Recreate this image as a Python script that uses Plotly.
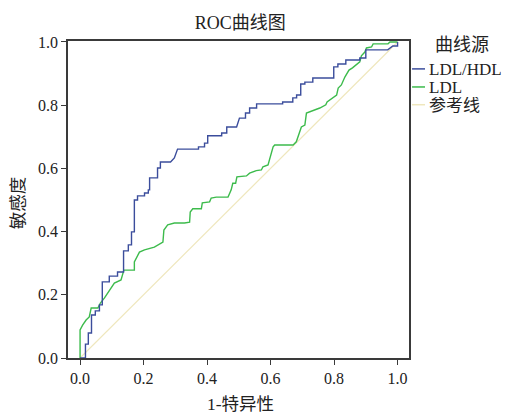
import plotly.graph_objects as go

# LDL/HDL ROC curve (1-specificity, sensitivity)
ldlhdl_fpr = [0.0, 0.017, 0.017, 0.026, 0.026, 0.036, 0.036, 0.048, 0.048, 0.061, 0.061, 0.070, 0.070,
              0.092, 0.092, 0.118, 0.118, 0.137, 0.137, 0.152, 0.152, 0.162, 0.162, 0.171, 0.171,
              0.181, 0.181, 0.203, 0.203, 0.215, 0.215, 0.219, 0.219, 0.244, 0.244, 0.253, 0.253,
              0.285, 0.297, 0.307, 0.373, 0.373, 0.392, 0.392, 0.402, 0.402, 0.446, 0.446, 0.462,
              0.462, 0.493, 0.502, 0.521, 0.521, 0.534, 0.534, 0.556, 0.556, 0.638, 0.638, 0.670,
              0.670, 0.682, 0.682, 0.695, 0.695, 0.708, 0.708, 0.733, 0.733, 0.799, 0.799, 0.812,
              0.812, 0.837, 0.837, 0.881, 0.881, 0.900, 0.900, 0.969, 0.985, 1.0, 1.0]
ldlhdl_tpr = [0.0, 0.0, 0.044, 0.044, 0.079, 0.079, 0.136, 0.136, 0.149, 0.149, 0.168, 0.168, 0.241,
              0.241, 0.259, 0.259, 0.272, 0.272, 0.339, 0.339, 0.358, 0.358, 0.399, 0.399, 0.500,
              0.500, 0.513, 0.513, 0.522, 0.522, 0.532, 0.532, 0.570, 0.570, 0.601, 0.601, 0.620,
              0.620, 0.633, 0.661, 0.661, 0.668, 0.668, 0.680, 0.680, 0.703, 0.703, 0.712, 0.712,
              0.731, 0.731, 0.759, 0.759, 0.775, 0.775, 0.791, 0.791, 0.804, 0.804, 0.810, 0.810,
              0.823, 0.823, 0.832, 0.832, 0.867, 0.867, 0.873, 0.873, 0.886, 0.886, 0.921, 0.921,
              0.930, 0.930, 0.943, 0.943, 0.949, 0.949, 0.975, 0.975, 0.987, 0.987, 1.0]

# LDL ROC curve
ldl_fpr = [0.0, 0.0, 0.008, 0.019, 0.029, 0.035, 0.056, 0.064, 0.077, 0.087, 0.098, 0.108, 0.129,
           0.138, 0.171, 0.171, 0.187, 0.203, 0.234, 0.261, 0.264, 0.276, 0.297, 0.329, 0.345,
           0.347, 0.355, 0.382, 0.385, 0.408, 0.413, 0.429, 0.466, 0.476, 0.481, 0.490, 0.494,
           0.524, 0.534, 0.555, 0.571, 0.576, 0.592, 0.599, 0.608, 0.613, 0.671, 0.681, 0.692,
           0.697, 0.708, 0.713, 0.755, 0.774, 0.778, 0.797, 0.808, 0.813, 0.823, 0.834, 0.847,
           0.858, 0.871, 0.881, 0.886, 0.897, 0.902, 0.918, 0.923, 0.970, 0.976, 1.0]
ldl_tpr = [0.0, 0.089, 0.104, 0.120, 0.130, 0.158, 0.158, 0.174, 0.190, 0.206, 0.222, 0.237, 0.247,
           0.278, 0.278, 0.304, 0.335, 0.342, 0.351, 0.367, 0.405, 0.421, 0.427, 0.427, 0.430,
           0.462, 0.472, 0.472, 0.491, 0.494, 0.506, 0.509, 0.509, 0.532, 0.553, 0.553, 0.573,
           0.576, 0.585, 0.593, 0.595, 0.605, 0.611, 0.636, 0.668, 0.674, 0.674, 0.684, 0.712,
           0.731, 0.737, 0.775, 0.791, 0.801, 0.810, 0.823, 0.832, 0.854, 0.864, 0.889, 0.911,
           0.918, 0.930, 0.937, 0.956, 0.968, 0.981, 0.984, 0.994, 0.994, 1.0, 1.0]

ref_x = [0.0, 1.0]
ref_y = [0.0, 1.0]

tick_vals = [0.0, 0.2, 0.4, 0.6, 0.8, 1.0]
tick_text = ["0.0", "0.2", "0.4", "0.6", "0.8", "1.0"]

series_names = ["LDL/HDL", "LDL", "参考线"]
series_colors = ["#3b4d9c", "#3dbb4c", "#efe7bd"]

FONT = "Liberation Serif, Noto Sans CJK SC, serif"

fig = go.Figure()
fig.add_trace(go.Scatter(x=ref_x, y=ref_y, mode="lines", name=series_names[2],
                         line=dict(color=series_colors[2], width=1.2)))
fig.add_trace(go.Scatter(x=ldl_fpr, y=ldl_tpr, mode="lines", name=series_names[1],
                         line=dict(color=series_colors[1], width=1.4)))
fig.add_trace(go.Scatter(x=ldlhdl_fpr, y=ldlhdl_tpr, mode="lines", name=series_names[0],
                         line=dict(color=series_colors[0], width=1.4)))

axis_common = dict(showgrid=False, zeroline=False, showline=True, linecolor="#3a3a3a",
                   linewidth=1.5, mirror=True, ticks="outside", ticklen=5, tickwidth=1,
                   tickcolor="#3a3a3a", tickvals=tick_vals, ticktext=tick_text,
                   tickfont=dict(family=FONT, size=16, color="#222"), automargin=False)

fig.update_xaxes(range=[-0.038, 1.036], **axis_common)
fig.update_yaxes(range=[0.0, 1.003], **axis_common)

# manual legend (to match the compact legend of the reference)
leg_y = [0.912, 0.855, 0.799]
annotations = [
    dict(text="1-特异性", x=0.505, y=-0.146, xref="paper", yref="paper", height=18,
         xanchor="center", yanchor="middle", showarrow=False,
         font=dict(family=FONT, size=17.5, color="#222")),
    dict(text="曲线源", x=1.07, y=0.99, xref="paper", yref="paper", xanchor="left", height=19,
         yanchor="middle", showarrow=False, font=dict(family=FONT, size=18, color="#222")),
    dict(text="敏感度", x=-0.148, y=0.49, xref="paper", yref="paper", textangle=-90,
         xanchor="center", yanchor="middle", showarrow=False,
         font=dict(family=FONT, size=17.5, color="#222")),
]
shapes = []
for name, col, yy in zip(series_names, series_colors, leg_y):
    shapes.append(dict(type="line", xref="paper", yref="paper", x0=1.009, x1=1.047, y0=yy, y1=yy,
                       line=dict(color=col, width=1.5)))
    annotations.append(dict(text=name, x=1.052, y=yy, xref="paper", yref="paper", xanchor="left",
                            yanchor="middle", showarrow=False, height=16,
                            font=dict(family=FONT, size=17, color="#222")))

fig.update_layout(
    width=514, height=413,
    margin=dict(l=68, r=105, t=41, b=55, autoexpand=False),
    paper_bgcolor="white", plot_bgcolor="white",
    showlegend=False,
    title=dict(text="ROC曲线图", x=0.505, xref="paper", y=0.945, yref="container", yanchor="middle",
               font=dict(family=FONT, size=18, color="#222")),
    annotations=annotations, shapes=shapes,
)

fig.write_html("out.html", config={"displayModeBar": False},
               post_script="document.body.style.margin='0';document.body.style.overflow='hidden';")
